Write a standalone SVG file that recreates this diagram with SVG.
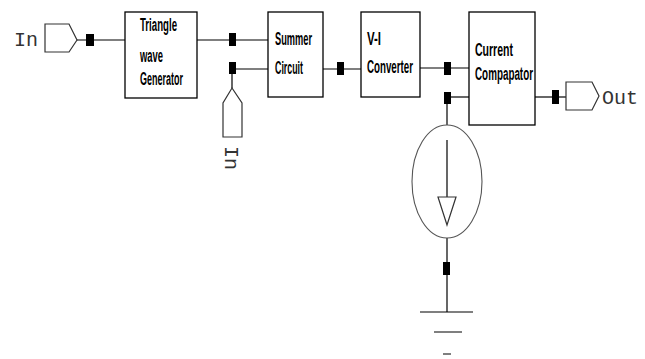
<svg xmlns="http://www.w3.org/2000/svg" width="645" height="359" viewBox="0 0 645 359">
<style>
.box{fill:#fff;stroke:#000;stroke-width:1.3}
.w{fill:none;stroke:#000;stroke-width:1.2}
.pin{fill:#000}
.port{fill:#fff;stroke:#333;stroke-width:1.2}
.lbl{font-family:"Liberation Sans",Arial,sans-serif;font-weight:bold;font-size:14.5px;fill:#000}
.mono{font-family:"Liberation Mono","Courier New",monospace;font-size:20px;fill:#333}
</style>
<rect width="645" height="359" fill="#fff"/>
<g id="connectors">
<path class="w" d="M77,40 H125"/>
<path class="w" d="M197,40 H268"/>
<path class="w" d="M232,69 H268"/>
<path class="w" d="M232,69 V88"/>
<path class="w" d="M323,69 H361"/>
<path class="w" d="M420,68 H469"/>
<path class="w" d="M447,97 H469"/>
<path class="w" d="M447,97 V125"/>
<path class="w" d="M535,97 H566"/>
<path class="w" d="M447,238 V312"/>
<rect class="pin" x="86" y="34" width="8" height="12"/>
<rect class="pin" x="229" y="33" width="7" height="13"/>
<rect class="pin" x="229" y="62" width="7" height="12"/>
<rect class="pin" x="337" y="62" width="7" height="13"/>
<rect class="pin" x="444" y="62" width="7" height="13"/>
<rect class="pin" x="444" y="92" width="7" height="12"/>
<rect class="pin" x="552" y="90" width="7" height="14"/>
<rect class="pin" x="443" y="262" width="7" height="13"/>
</g>
<g id="in1">
<path class="port" d="M45,24 H69 L77,40 L69,52 H45 Z"/>
<text class="mono" x="14" y="46">In</text>
</g>
<g id="in2">
<path class="port" d="M232,88 L242,103 V137 H223 V103 Z"/>
<text class="mono" transform="translate(225,146) rotate(90)">In</text>
</g>
<g id="triangle">
<rect class="box" x="125" y="12" width="72" height="86"/>
<text class="lbl" transform="translate(140,31) scale(1,1.3)" textLength="37" lengthAdjust="spacingAndGlyphs">Triangle</text>
<text class="lbl" transform="translate(140,62) scale(1,1.3)" textLength="23" lengthAdjust="spacingAndGlyphs">wave</text>
<text class="lbl" transform="translate(140,85) scale(1,1.3)" textLength="43" lengthAdjust="spacingAndGlyphs">Generator</text>
</g>
<g id="summer">
<rect class="box" x="268" y="12" width="55" height="85"/>
<text class="lbl" transform="translate(275,45) scale(1,1.3)" textLength="37" lengthAdjust="spacingAndGlyphs">Summer</text>
<text class="lbl" transform="translate(275,74) scale(1,1.3)" textLength="28" lengthAdjust="spacingAndGlyphs">Circuit</text>
</g>
<g id="vi">
<rect class="box" x="361" y="12" width="59" height="85"/>
<text class="lbl" transform="translate(367,45) scale(1,1.3)" textLength="14" lengthAdjust="spacingAndGlyphs">V-I</text>
<text class="lbl" transform="translate(367,73) scale(1,1.3)" textLength="46" lengthAdjust="spacingAndGlyphs">Converter</text>
</g>
<g id="comparator">
<rect class="box" x="469" y="12" width="66" height="113"/>
<text class="lbl" transform="translate(475,56) scale(1,1.3)" textLength="38" lengthAdjust="spacingAndGlyphs">Current</text>
<text class="lbl" transform="translate(475,80) scale(1,1.3)" textLength="58" lengthAdjust="spacingAndGlyphs">Compapator</text>
</g>
<g id="out">
<path class="port" d="M566,82 H592 L599,96 L592,110 H566 Z"/>
<text class="mono" x="602" y="104">Out</text>
</g>
<g id="source">
<ellipse cx="447" cy="181.5" rx="35" ry="56.5" fill="none" stroke="#555" stroke-width="1.1"/>
<path class="w" d="M447,140 V197"/>
<path fill="#fff" stroke="#333" stroke-width="1.2" d="M438,197 H456 L447,225 Z"/>
</g>
<g id="ground">
<path class="w" d="M420,312 H473 M434,332 H462 M443,354 H451"/>
</g>
</svg>
